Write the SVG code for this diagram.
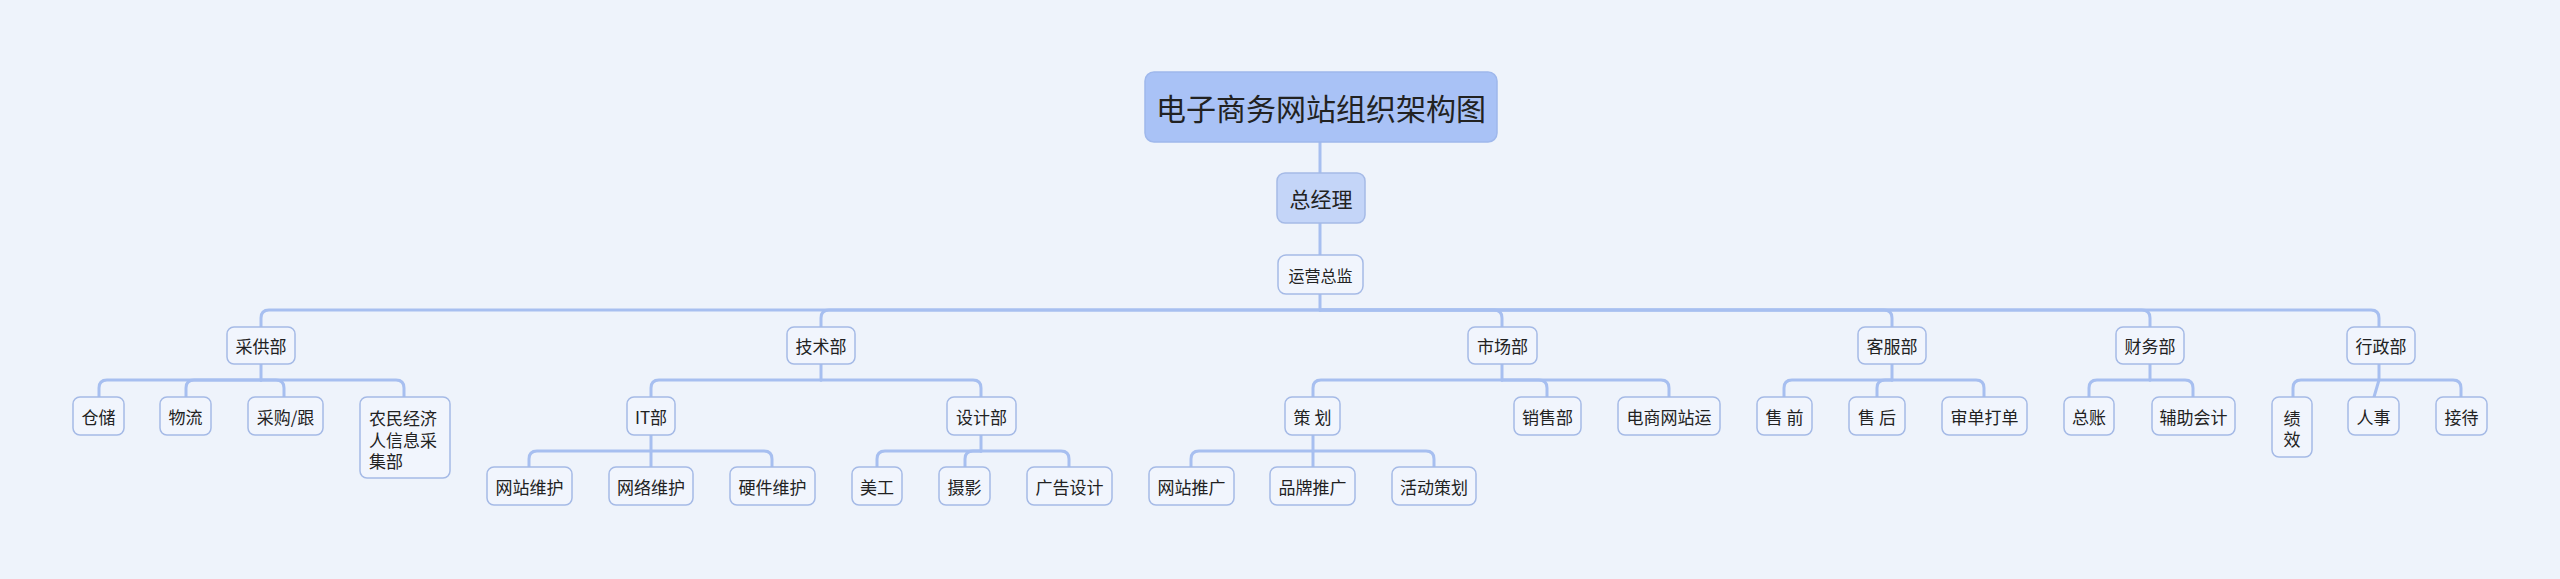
<svg xmlns="http://www.w3.org/2000/svg" width="2560" height="579" viewBox="0 0 2560 579">
<style>
.bg{fill:#eef3fb}
.n{fill:#f1f5fd;stroke:#a5bae6;stroke-width:1.5}
.t{font-family:"Noto Sans CJK SC","Microsoft YaHei",sans-serif;font-size:17px;fill:#222;text-anchor:middle;dominant-baseline:central}
.tl{font-family:"Noto Sans CJK SC","Microsoft YaHei",sans-serif;font-size:17px;fill:#222}
.c{fill:none;stroke:#a7bff0;stroke-width:3;stroke-linecap:round}
</style>
<rect class="bg" x="0" y="0" width="2560" height="579"/>
<g id="connectors" class="c">
<path d="M1320 142V173M1320 223V255M1320 294V310"/>
<path d="M1320 310H269Q261 310 261 318V327"/>
<path d="M1320 310H829Q821 310 821 318V327"/>
<path d="M1320 310H1494Q1502 310 1502 318V327"/>
<path d="M1320 310H1884Q1892 310 1892 318V327"/>
<path d="M1320 310H2142Q2150 310 2150 318V327"/>
<path d="M1320 310H2371Q2379 310 2379 318V327"/>
<path d="M261 364V380"/>
<path d="M261 380H107Q99 380 99 388V397"/>
<path d="M261 380H194Q186 380 186 388V397"/>
<path d="M261 380H276Q284 380 284 388V397"/>
<path d="M261 380H396Q404 380 404 388V397"/>
<path d="M821 364V380"/>
<path d="M821 380H659Q651 380 651 388V397"/>
<path d="M821 380H973Q981 380 981 388V397"/>
<path d="M651 435V451"/>
<path d="M651 451H537Q529 451 529 459V467"/>
<path d="M651 451V467"/>
<path d="M651 451H764Q772 451 772 459V467"/>
<path d="M981 435V451"/>
<path d="M981 451H885Q877 451 877 459V467"/>
<path d="M981 451H973Q965 451 965 459V467"/>
<path d="M981 451H1061Q1069 451 1069 459V467"/>
<path d="M1502 364V380"/>
<path d="M1502 380H1321Q1313 380 1313 388V397"/>
<path d="M1502 380H1539Q1547 380 1547 388V397"/>
<path d="M1502 380H1661Q1669 380 1669 388V397"/>
<path d="M1313 435V451"/>
<path d="M1313 451H1199Q1191 451 1191 459V467"/>
<path d="M1313 451V467"/>
<path d="M1313 451H1426Q1434 451 1434 459V467"/>
<path d="M1892 364V380"/>
<path d="M1892 380H1792Q1784 380 1784 388V397"/>
<path d="M1892 380H1885Q1877 380 1877 388V397"/>
<path d="M1892 380H1976Q1984 380 1984 388V397"/>
<path d="M2150 364V380"/>
<path d="M2150 380H2097Q2089 380 2089 388V397"/>
<path d="M2150 380H2185Q2193 380 2193 388V397"/>
<path d="M2379 364V380"/>
<path d="M2379 380H2301Q2293 380 2293 388V397"/>
<path d="M2379 380L2374 397"/>
<path d="M2379 380H2453Q2461 380 2461 388V397"/>
</g>
<g id="root">
<rect x="1145" y="72" width="352" height="70" rx="9" fill="#a9c2f6" stroke="#9fb8ec" stroke-width="1.5"/>
<text class="t" x="1321" y="107" style="font-size:30px">电子商务网站组织架构图</text>
</g>
<g id="gm">
<rect x="1277" y="173" width="88" height="50" rx="8" fill="#c4d5f8" stroke="#a5bae6" stroke-width="1.5"/>
<text class="t" x="1321" y="198" style="font-size:21px">总经理</text>
</g>
<g id="ops">
<rect class="n" x="1278" y="255" width="85" height="39" rx="8"/>
<text class="t" x="1320.5" y="274.5" style="font-size:16px">运营总监</text>
</g>
<g id="d1"><rect class="n" x="227" y="327" width="68" height="37" rx="7"/><text class="t" x="261" y="345.5">采供部</text></g>
<g id="d2"><rect class="n" x="787" y="327" width="68" height="37" rx="7"/><text class="t" x="821" y="345.5">技术部</text></g>
<g id="d3"><rect class="n" x="1468" y="327" width="69" height="37" rx="7"/><text class="t" x="1502.5" y="345.5">市场部</text></g>
<g id="d4"><rect class="n" x="1858" y="327" width="68" height="37" rx="7"/><text class="t" x="1892" y="345.5">客服部</text></g>
<g id="d5"><rect class="n" x="2116" y="327" width="68" height="37" rx="7"/><text class="t" x="2150" y="345.5">财务部</text></g>
<g id="d6"><rect class="n" x="2347" y="327" width="68" height="37" rx="7"/><text class="t" x="2381" y="345.5">行政部</text></g>
<g id="n11"><rect class="n" x="73" y="397" width="51" height="38" rx="7"/><text class="t" x="98.5" y="416">仓储</text></g>
<g id="n12"><rect class="n" x="160" y="397" width="51" height="38" rx="7"/><text class="t" x="185.5" y="416">物流</text></g>
<g id="n13"><rect class="n" x="248" y="397" width="75" height="38" rx="7"/><text class="t" x="285.5" y="416">采购/跟</text></g>
<g id="n14"><rect class="n" x="360" y="397" width="90" height="81" rx="7"/><text class="tl" x="369" y="425">农民经济</text><text class="tl" x="369" y="446.5">人信息采</text><text class="tl" x="369" y="468">集部</text></g>
<g id="n21"><rect class="n" x="627" y="397" width="48" height="38" rx="7"/><text class="t" x="651" y="416">IT部</text></g>
<g id="n22"><rect class="n" x="947" y="397" width="69" height="38" rx="7"/><text class="t" x="981.5" y="416">设计部</text></g>
<g id="n211"><rect class="n" x="487" y="467" width="85" height="38" rx="7"/><text class="t" x="529.5" y="486">网站维护</text></g>
<g id="n212"><rect class="n" x="609" y="467" width="84" height="38" rx="7"/><text class="t" x="651" y="486">网络维护</text></g>
<g id="n213"><rect class="n" x="730" y="467" width="85" height="38" rx="7"/><text class="t" x="772.5" y="486">硬件维护</text></g>
<g id="n221"><rect class="n" x="852" y="467" width="50" height="38" rx="7"/><text class="t" x="877" y="486">美工</text></g>
<g id="n222"><rect class="n" x="939" y="467" width="51" height="38" rx="7"/><text class="t" x="964.5" y="486">摄影</text></g>
<g id="n223"><rect class="n" x="1027" y="467" width="85" height="38" rx="7"/><text class="t" x="1069.5" y="486">广告设计</text></g>
<g id="n31"><rect class="n" x="1285" y="397" width="55" height="38" rx="7"/><text class="t" x="1312.5" y="416" xml:space="preserve">策 划</text></g>
<g id="n32"><rect class="n" x="1514" y="397" width="67" height="38" rx="7"/><text class="t" x="1547.5" y="416">销售部</text></g>
<g id="n33"><rect class="n" x="1618" y="397" width="102" height="38" rx="7"/><text class="t" x="1669" y="416">电商网站运</text></g>
<g id="n311"><rect class="n" x="1149" y="467" width="85" height="38" rx="7"/><text class="t" x="1191.5" y="486">网站推广</text></g>
<g id="n312"><rect class="n" x="1270" y="467" width="85" height="38" rx="7"/><text class="t" x="1312.5" y="486">品牌推广</text></g>
<g id="n313"><rect class="n" x="1392" y="467" width="84" height="38" rx="7"/><text class="t" x="1434" y="486">活动策划</text></g>
<g id="n41"><rect class="n" x="1757" y="397" width="55" height="38" rx="7"/><text class="t" x="1784.5" y="416" xml:space="preserve">售 前</text></g>
<g id="n42"><rect class="n" x="1849" y="397" width="56" height="38" rx="7"/><text class="t" x="1877" y="416" xml:space="preserve">售 后</text></g>
<g id="n43"><rect class="n" x="1942" y="397" width="85" height="38" rx="7"/><text class="t" x="1984.5" y="416">审单打单</text></g>
<g id="n51"><rect class="n" x="2064" y="397" width="50" height="38" rx="7"/><text class="t" x="2089" y="416">总账</text></g>
<g id="n52"><rect class="n" x="2152" y="397" width="83" height="38" rx="7"/><text class="t" x="2193.5" y="416">辅助会计</text></g>
<g id="n61"><rect class="n" x="2272" y="397" width="40" height="60" rx="7"/><text class="t" x="2292" y="417">绩</text><text class="t" x="2292" y="438">效</text></g>
<g id="n62"><rect class="n" x="2348" y="397" width="51" height="38" rx="7"/><text class="t" x="2373.5" y="416">人事</text></g>
<g id="n63"><rect class="n" x="2436" y="397" width="51" height="38" rx="7"/><text class="t" x="2461.5" y="416">接待</text></g>
</svg>
